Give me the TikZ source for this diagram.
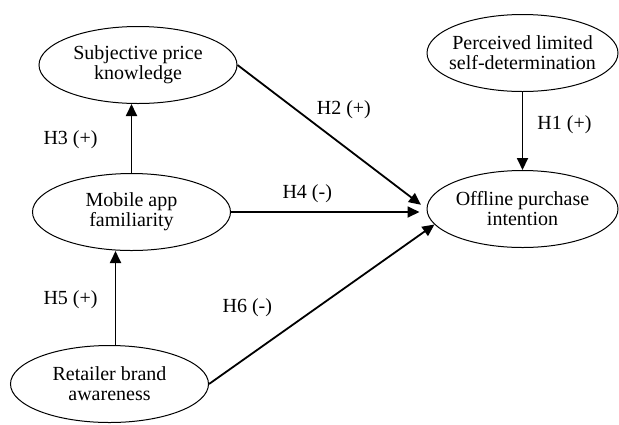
\documentclass[tikz,border=0pt]{standalone}
\usepackage{fontspec}
\setmainfont{Liberation Serif}
\usepackage{tikz}
\usetikzlibrary{shapes.geometric, arrows}
\usetikzlibrary{positioning, arrows.meta}

\begin{document}
\begin{tikzpicture}[
        x=0.5pt, y=-0.5pt,
        construct/.style={ellipse, draw=black, line width=0.5pt, minimum width=99pt, minimum height=38.5pt, inner xsep=-3pt, inner ysep=2pt, align=center, font=\fontsize{10}{10}\selectfont},
        outcome/.style={construct, minimum width=95.5pt},
        arrow/.style={line width=0.9pt, -{Triangle[length=6pt, width=5.5pt]}},
        hyp/.style={inner sep=0pt, font=\fontsize{10}{12}\selectfont}
    ]
        \useasboundingbox (0,0) rectangle (619,424);

        % ===== 变量 =====
        \node (subj) [construct] at (138,65) {Subjective price\\knowledge};
        \node (mobile) [construct] at (131.5,212) {Mobile app\\familiarity};
        \node (retailer) [construct] at (109.5,384) {Retailer brand\\awareness};
        \node (perceived) [outcome] at (522.5,53) {Perceived limited\\self-determination};
        \node (offline) [outcome] at (522.5,209) {Offline purchase\\intention};
        \coordinate (h5start) at ([xshift=3pt]retailer.north);

        % ===== 假设路径 =====
        \draw [arrow] (perceived) -- (offline) node[hyp, pos=0.42, right=7pt] (h1) {H1 (+)};
        \draw [arrow, shorten >=3.5pt] (subj.east) -- (offline.west) node[hyp, pos=0.4, above right=2pt] (h2) {H2 (+)};
        \draw [arrow] (mobile.north) -- (mobile.north |- subj.south) node[hyp, pos=0.48, left=16.5pt] (h3) {H3 (+)};
        \draw [arrow, shorten >=3.5pt] (mobile.east) -- (mobile.east -| offline.west) node[hyp, pos=0.39, above=4pt] (h4) {H4 (-)};
        \draw [arrow] (h5start) -- (h5start |- mobile.south) node[hyp, pos=0.48, left=8.5pt] (h5) {H5 (+)};
        \draw [arrow] (retailer.east) -- (offline.190) node[hyp, pos=0.17, above=19.5pt] (h6) {H6 (-)};

    \end{tikzpicture}
\end{document}
